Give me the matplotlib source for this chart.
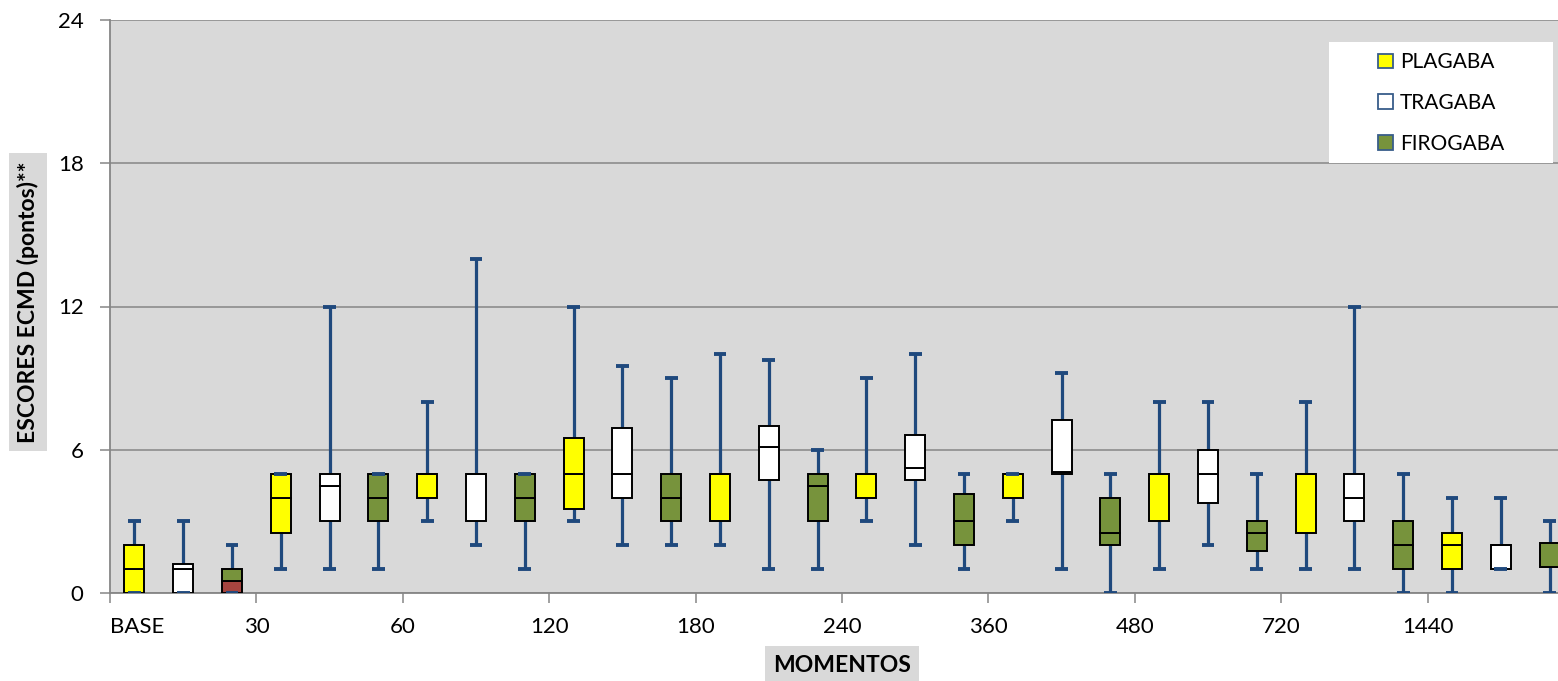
import matplotlib.pyplot as plt
from matplotlib.patches import Patch, Rectangle

plt.rcParams['font.family'] = ['Lato', 'DejaVu Sans']

# moments (x categories)
momentos = ['BASE', '30', '60', '120', '180', '240', '360', '480', '720', '1440']
series = ['PLAGABA', 'TRAGABA', 'FIROGABA']

# each row: [min, q1, median, q3, max]
plagaba = [
    [0, 0, 1, 2, 3],
    [1, 2.5, 4, 5, 5],
    [3, 4, 5, 5, 8],
    [3, 3.5, 5, 6.5, 12],
    [2, 3, 5, 5, 10],
    [3, 4, 5, 5, 9],
    [3, 4, 5, 5, 5],
    [1, 3, 5, 5, 8],
    [1, 2.5, 5, 5, 8],
    [0, 1, 2, 2.5, 4],
]
tragaba = [
    [0, 0, 1, 1.2, 3],
    [1, 3, 4.5, 5, 12],
    [2, 3, 5, 5, 14],
    [2, 4, 5, 6.9, 9.5],
    [1, 4.75, 6.1, 7, 9.75],
    [2, 4.75, 5.25, 6.6, 10],
    [1, 5, 5.05, 7.25, 9.2],
    [2, 3.75, 5, 6, 8],
    [1, 3, 4, 5, 12],
    [1, 1, 2, 2, 4],
]
firogaba = [
    [0, 0, 0.5, 1, 2],
    [1, 3, 4, 5, 5],
    [1, 3, 4, 5, 5],
    [2, 3, 4, 5, 9],
    [1, 3, 4.5, 5, 6],
    [1, 2, 3, 4.15, 5],
    [0, 2, 2.5, 4, 5],
    [1, 1.75, 2.5, 3, 5],
    [0, 1, 2, 3, 5],
    [0, 1.1, 1.1, 2.1, 3],
]

colors = ['#FFFF00', '#FFFFFF', '#77933C']
whisker_col = '#1F497D'
grid_col = '#868686'

fig = plt.figure(figsize=(15.58, 6.81), dpi=100)
# plot area runs past the right edge of the picture (clipped like the original)
ax = fig.add_axes([110 / 1558, 88 / 681, 1464 / 1558, 573 / 681])
ax.set_facecolor('#D9D9D9')

for s, (data, col) in enumerate(zip([plagaba, tragaba, firogaba], colors)):
    for m, (lo, q1, med, q3, hi) in enumerate(data):
        x = 3 * m + s + 0.5
        lower_col = col
        if m == 0 and s == 2:
            lower_col = '#A5443F'  # odd red segment in the base box
        ax.vlines(x, lo, q1, color=whisker_col, lw=2.3, zorder=2)
        ax.vlines(x, q3, hi, color=whisker_col, lw=2.3, zorder=2)
        ax.bar(x, med - q1, bottom=q1, width=0.41, color=lower_col,
               edgecolor='black', linewidth=1.4, zorder=3)
        ax.bar(x, q3 - med, bottom=med, width=0.41, color=col,
               edgecolor='black', linewidth=1.4, zorder=3)
        ax.hlines([lo, hi], x - 0.13, x + 0.13, color=whisker_col, lw=2.8, zorder=4)

ax.set_xlim(0, 30)
ax.set_ylim(0, 24)
ax.set_yticks([0, 6, 12, 18, 24])
ax.yaxis.grid(True, color=grid_col, lw=1.1)
ax.set_axisbelow(True)
ax.set_xticks([3 * i for i in range(len(momentos))])
ax.set_xticklabels(momentos)
ax.get_xticklabels()[0].set_horizontalalignment('left')
ax.tick_params(axis='both', labelsize=16, color=grid_col, length=7, width=1.1)
ax.tick_params(axis='x', pad=10)
ax.tick_params(axis='y', pad=12)
for sp in ['top', 'right']:
    ax.spines[sp].set_visible(False)
for sp in ['left', 'bottom']:
    ax.spines[sp].set_color(grid_col)
    ax.spines[sp].set_linewidth(1.3)

fig.text(28 / 1558, 1 - 302 / 681, 'ESCORES ECMD (pontos)**', rotation=90,
         ha='center', va='center', fontsize=16.5, fontweight='bold',
         bbox=dict(facecolor='#D9D9D9', edgecolor='none', pad=6))
fig.text(842 / 1558, 1 - 665 / 681, 'MOMENTOS', ha='center', va='center',
         fontsize=16.5, fontweight='bold',
         bbox=dict(facecolor='#D9D9D9', edgecolor='none', pad=6))

# legend box
fig.patches.append(Rectangle((1329 / 1558, 1 - 163 / 681), 224 / 1558, 121 / 681,
                             transform=fig.transFigure, facecolor='white',
                             edgecolor='none', zorder=5))
handles = [Patch(facecolor=c, edgecolor='#385D8A', linewidth=1.3) for c in colors]
leg = fig.legend(handles, series, loc='center',
                 bbox_to_anchor=(1441 / 1558, 1 - 103 / 681), frameon=False,
                 fontsize=15, labelspacing=1.0, handlelength=0.7,
                 handleheight=0.7, handletextpad=0.35)
leg.set_zorder(6)

fig.savefig('out.png', dpi=100)
